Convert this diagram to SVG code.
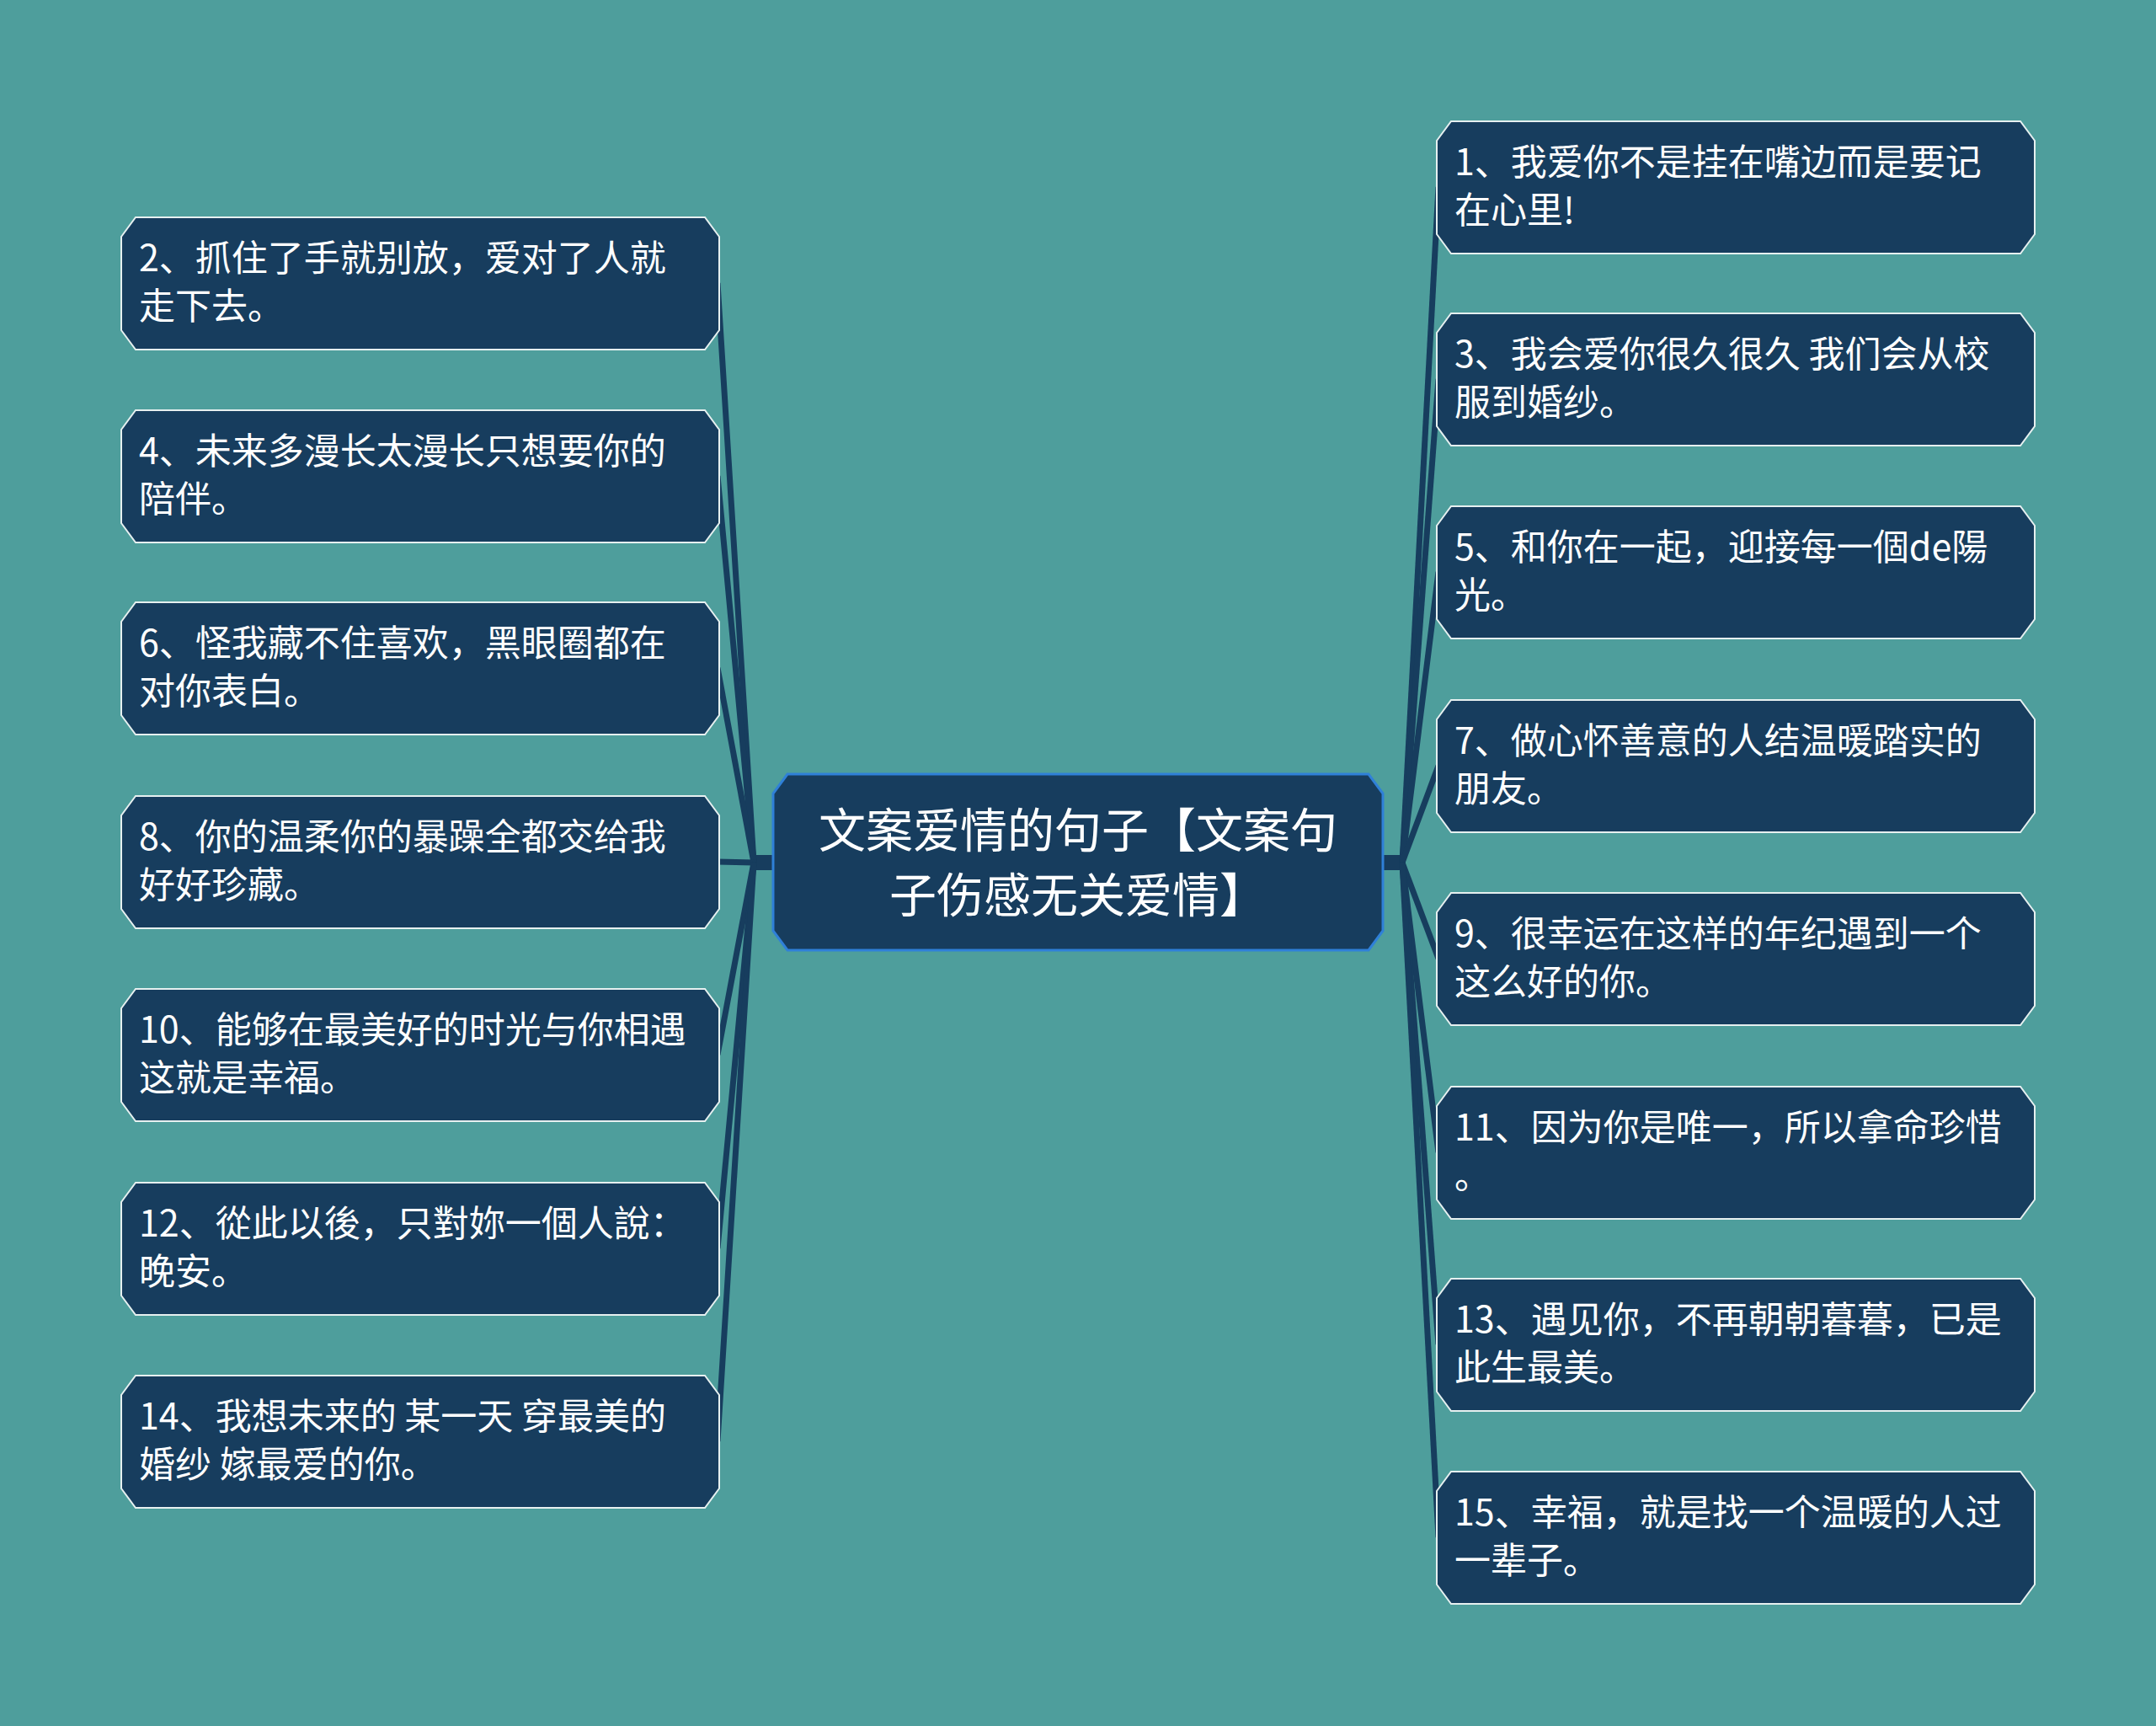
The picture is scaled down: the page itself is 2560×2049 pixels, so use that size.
<svg xmlns="http://www.w3.org/2000/svg" width="2560" height="2049" viewBox="0 0 2560 2049">
<style>
.n{fill:#173d5e;stroke:#e6f0f0;stroke-width:2}
.c{fill:#173d5e;stroke:#2f80d8;stroke-width:3}
.t{font-family:"Noto Sans CJK SC","Noto Sans",sans-serif;font-size:43px;fill:#ffffff}
.ct{font-family:"Noto Sans CJK SC","Noto Sans",sans-serif;font-size:56px;fill:#ffffff;text-anchor:middle}
.l{fill:#173d5e}
.s{stroke:#173d5e;stroke-width:7;fill:none}
</style>
<rect width="2560" height="2049" fill="#4e9e9c"/>
<g id="connectors">
<rect class="l" x="1640" y="1015" width="28" height="18"/>
<rect class="l" x="892" y="1015" width="28" height="18"/>
<g class="s">
<line x1="1665" y1="1024" x2="1708" y2="222"/>
<line x1="1665" y1="1024" x2="1708" y2="450"/>
<line x1="1665" y1="1024" x2="1708" y2="679"/>
<line x1="1665" y1="1024" x2="1708" y2="909"/>
<line x1="1665" y1="1024" x2="1708" y2="1138"/>
<line x1="1665" y1="1024" x2="1708" y2="1368"/>
<line x1="1665" y1="1024" x2="1708" y2="1596"/>
<line x1="1665" y1="1024" x2="1708" y2="1825"/>
<line x1="895" y1="1024" x2="852" y2="336"/>
<line x1="895" y1="1024" x2="852" y2="565"/>
<line x1="895" y1="1024" x2="852" y2="793"/>
<line x1="895" y1="1024" x2="852" y2="1023"/>
<line x1="895" y1="1024" x2="852" y2="1252"/>
<line x1="895" y1="1024" x2="852" y2="1482"/>
<line x1="895" y1="1024" x2="852" y2="1711"/>
</g>
</g>
<g id="center"><polygon class="c" points="935,919 1625,919 1642,942 1642,1105 1625,1128 935,1128 918,1105 918,942"/>
<text class="ct" x="1280" y="1006">文案爱情的句子【文案句</text><text class="ct" x="1280" y="1083">子伤感无关爱情】</text></g>
<g id="n1"><polygon class="n" points="1723,144 2399,144 2416,167 2416,278 2399,301 1723,301 1706,278 1706,167"/><text class="t" x="1727" y="208">1、我爱你不是挂在嘴边而是要记</text><text class="t" x="1727" y="265">在心里!</text></g>
<g id="n3"><polygon class="n" points="1723,372 2399,372 2416,395 2416,506 2399,529 1723,529 1706,506 1706,395"/><text class="t" x="1727" y="436">3、我会爱你很久很久 我们会从校</text><text class="t" x="1727" y="493">服到婚纱。</text></g>
<g id="n5"><polygon class="n" points="1723,601 2399,601 2416,624 2416,735 2399,758 1723,758 1706,735 1706,624"/><text class="t" x="1727" y="665">5、和你在一起，迎接每一個de陽</text><text class="t" x="1727" y="722">光。</text></g>
<g id="n7"><polygon class="n" points="1723,831 2399,831 2416,854 2416,965 2399,988 1723,988 1706,965 1706,854"/><text class="t" x="1727" y="895">7、做心怀善意的人结温暖踏实的</text><text class="t" x="1727" y="952">朋友。</text></g>
<g id="n9"><polygon class="n" points="1723,1060 2399,1060 2416,1083 2416,1194 2399,1217 1723,1217 1706,1194 1706,1083"/><text class="t" x="1727" y="1124">9、很幸运在这样的年纪遇到一个</text><text class="t" x="1727" y="1181">这么好的你。</text></g>
<g id="n11"><polygon class="n" points="1723,1290 2399,1290 2416,1313 2416,1424 2399,1447 1723,1447 1706,1424 1706,1313"/><text class="t" x="1727" y="1354">11、因为你是唯一，所以拿命珍惜</text><text class="t" x="1727" y="1411">。</text></g>
<g id="n13"><polygon class="n" points="1723,1518 2399,1518 2416,1541 2416,1652 2399,1675 1723,1675 1706,1652 1706,1541"/><text class="t" x="1727" y="1582">13、遇见你，不再朝朝暮暮，已是</text><text class="t" x="1727" y="1639">此生最美。</text></g>
<g id="n15"><polygon class="n" points="1723,1747 2399,1747 2416,1770 2416,1881 2399,1904 1723,1904 1706,1881 1706,1770"/><text class="t" x="1727" y="1811">15、幸福，就是找一个温暖的人过</text><text class="t" x="1727" y="1868">一辈子。</text></g>
<g id="n2"><polygon class="n" points="161,258 837,258 854,281 854,392 837,415 161,415 144,392 144,281"/><text class="t" x="165" y="322">2、抓住了手就别放，爱对了人就</text><text class="t" x="165" y="379">走下去。</text></g>
<g id="n4"><polygon class="n" points="161,487 837,487 854,510 854,621 837,644 161,644 144,621 144,510"/><text class="t" x="165" y="551">4、未来多漫长太漫长只想要你的</text><text class="t" x="165" y="608">陪伴。</text></g>
<g id="n6"><polygon class="n" points="161,715 837,715 854,738 854,849 837,872 161,872 144,849 144,738"/><text class="t" x="165" y="779">6、怪我藏不住喜欢，黑眼圈都在</text><text class="t" x="165" y="836">对你表白。</text></g>
<g id="n8"><polygon class="n" points="161,945 837,945 854,968 854,1079 837,1102 161,1102 144,1079 144,968"/><text class="t" x="165" y="1009">8、你的温柔你的暴躁全都交给我</text><text class="t" x="165" y="1066">好好珍藏。</text></g>
<g id="n10"><polygon class="n" points="161,1174 837,1174 854,1197 854,1308 837,1331 161,1331 144,1308 144,1197"/><text class="t" x="165" y="1238">10、能够在最美好的时光与你相遇</text><text class="t" x="165" y="1295">这就是幸福。</text></g>
<g id="n12"><polygon class="n" points="161,1404 837,1404 854,1427 854,1538 837,1561 161,1561 144,1538 144,1427"/><text class="t" x="165" y="1468">12、從此以後，只對妳一個人說：</text><text class="t" x="165" y="1525">晚安。</text></g>
<g id="n14"><polygon class="n" points="161,1633 837,1633 854,1656 854,1767 837,1790 161,1790 144,1767 144,1656"/><text class="t" x="165" y="1697">14、我想未来的 某一天 穿最美的</text><text class="t" x="165" y="1754">婚纱 嫁最爱的你。</text></g>
</svg>
